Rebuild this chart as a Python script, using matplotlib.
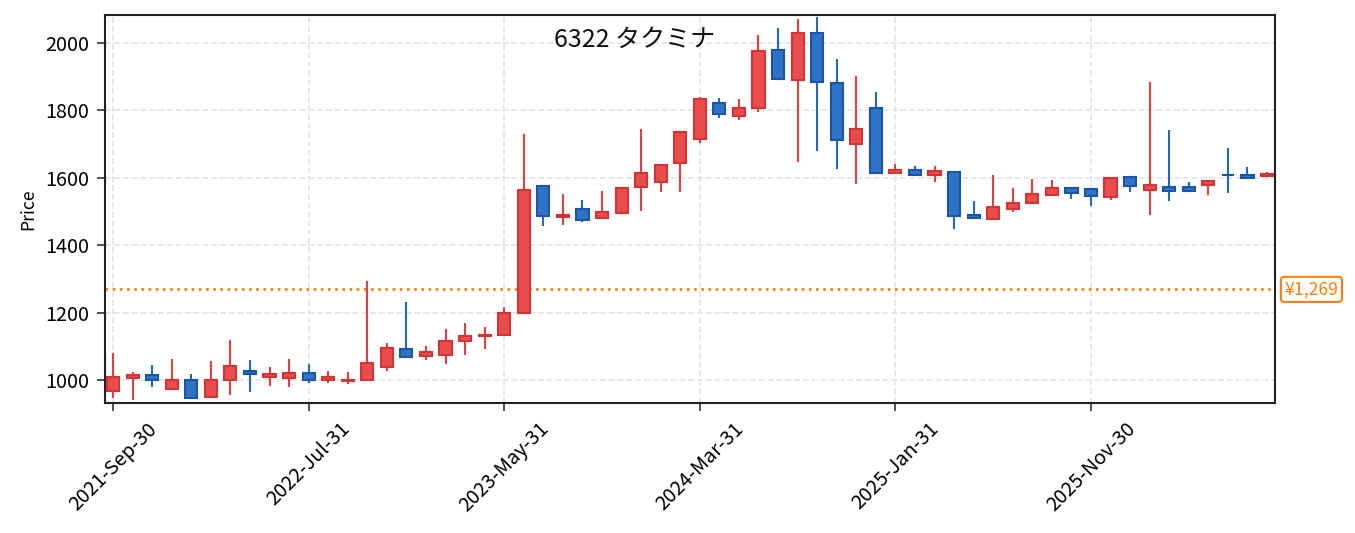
import matplotlib
matplotlib.use("Agg")
import matplotlib.pyplot as plt
import matplotlib.transforms as mtransforms
import numpy as np

plt.rcParams['font.family'] = ['Noto Sans CJK JP', 'DejaVu Sans']

# monthly OHLC
opens = [969, 1005, 1015, 974, 1001, 950, 999, 1028, 1008, 1007,
         1021, 1001, 998, 1001, 1040, 1093, 1070, 1073, 1117, 1132,
         1133, 1200, 1575, 1483, 1508, 1480, 1497, 1574, 1587, 1645,
         1716, 1821, 1782, 1806, 1979, 1890, 2030, 1881, 1701, 1808,
         1613, 1622, 1607, 1618, 1491, 1479, 1507, 1524, 1550, 1571,
         1568, 1542, 1601, 1563, 1572, 1572, 1578, 1609, 1609, 1604]
highs = [1081, 1023, 1044, 1062, 1017, 1056, 1118, 1059, 1040, 1062,
         1047, 1026, 1023, 1295, 1109, 1232, 1100, 1151, 1169, 1157,
         1217, 1731, 1577, 1552, 1533, 1561, 1573, 1744, 1640, 1738,
         1840, 1837, 1833, 2023, 2044, 2071, 2078, 1951, 1903, 1855,
         1642, 1635, 1635, 1620, 1531, 1608, 1570, 1597, 1594, 1573,
         1570, 1600, 1603, 1885, 1741, 1588, 1591, 1689, 1632, 1617]
lows = [946, 940, 979, 970, 948, 946, 955, 964, 982, 979,
        991, 991, 988, 997, 1027, 1067, 1060, 1048, 1075, 1092,
        1133, 1195, 1457, 1460, 1470, 1478, 1497, 1502, 1558, 1559,
        1703, 1778, 1770, 1794, 1893, 1646, 1679, 1625, 1583, 1615,
        1611, 1606, 1589, 1449, 1479, 1479, 1499, 1524, 1547, 1538,
        1517, 1535, 1559, 1490, 1532, 1558, 1550, 1556, 1598, 1601]
closes = [1009, 1015, 999, 1001, 948, 1001, 1042, 1019, 1019, 1022,
          1001, 1010, 1001, 1052, 1094, 1067, 1082, 1117, 1132, 1135,
          1200, 1565, 1486, 1491, 1476, 1499, 1571, 1613, 1637, 1736,
          1835, 1789, 1808, 1976, 1893, 2030, 1884, 1711, 1745, 1615,
          1622, 1608, 1619, 1488, 1481, 1514, 1526, 1553, 1571, 1554,
          1545, 1598, 1575, 1578, 1560, 1560, 1590, 1607, 1599, 1610]

tick_labels = ['2021-Sep-30', '2022-Jul-31', '2023-May-31',
               '2024-Mar-31', '2025-Jan-31', '2025-Nov-30']
title = '6322 タクミナ'
ref_price = 1269

up_fill, up_edge = '#e84c4c', '#d33535'
down_fill, down_edge = '#2e74c6', '#1a55a6'

fig = plt.figure(figsize=(1355 / 150, 533 / 150), dpi=150)
ax = fig.add_axes([0.0775, 0.2439, 0.8635, 0.728])

x = np.arange(len(opens))
o = np.array(opens)
c = np.array(closes)
up = c >= o
width = 0.62

for i in x:
    fill, edge = (up_fill, up_edge) if up[i] else (down_fill, down_edge)
    wick = '#e53e3e' if up[i] else '#2169c0'
    ax.vlines(i, lows[i], highs[i], color=wick, lw=1.0, zorder=2)
    lo = min(o[i], c[i])
    h = max(abs(c[i] - o[i]), 1.5)
    ax.bar(i, h, width, bottom=lo, color=fill, edgecolor=edge, lw=1.0, zorder=3)

ax.axhline(ref_price, color='#ff7f0e', ls=':', lw=1.3, zorder=1)
trans = mtransforms.blended_transform_factory(ax.transAxes, ax.transData)
ax.text(1.008, ref_price, '¥1,269', transform=trans, ha='left', va='center',
        fontsize=8.5, color='#ff7f0e',
        bbox=dict(boxstyle='round,pad=0.2', fc='white', ec='#ff7f0e', lw=1.0))

ax.text(0.453, 0.937, title, transform=ax.transAxes, ha='center', va='center',
        fontsize=12, color='#111111')

ax.set_xlim(-0.41, len(opens) - 1 + 0.41)
ax.set_ylim(932, 2083)
ax.set_xticks(np.arange(0, len(opens), 10))
ax.set_xticklabels(tick_labels, rotation=45)
ax.set_yticks([1000, 1200, 1400, 1600, 1800, 2000])
ax.tick_params(labelsize=9.5, color='#333333', length=4)
ax.set_ylabel('Price', fontsize=8.5)
ax.grid(True, ls='--', color='#e4e4e4', lw=0.8, zorder=0)
ax.set_axisbelow(True)
for s in ax.spines.values():
    s.set_color('#222222')
    s.set_linewidth(1.0)

fig.savefig('out.png', dpi=150)
